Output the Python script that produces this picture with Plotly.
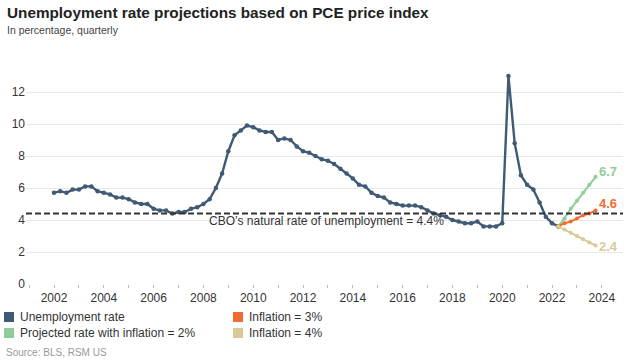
import plotly.graph_objects as go

# ---------------- data ----------------
years = list(range(2002, 2023))
unemployment = [
    5.7, 5.8, 5.7, 5.9,   # 2002
    5.9, 6.1, 6.1, 5.8,   # 2003
    5.7, 5.6, 5.4, 5.4,   # 2004
    5.3, 5.1, 5.0, 5.0,   # 2005
    4.7, 4.6, 4.6, 4.4,   # 2006
    4.5, 4.5, 4.7, 4.8,   # 2007
    5.0, 5.3, 6.0, 6.9,   # 2008
    8.3, 9.3, 9.6, 9.9,   # 2009
    9.8, 9.6, 9.5, 9.5,   # 2010
    9.0, 9.1, 9.0, 8.6,   # 2011
    8.3, 8.2, 8.0, 7.8,   # 2012
    7.7, 7.5, 7.2, 6.9,   # 2013
    6.6, 6.2, 6.1, 5.7,   # 2014
    5.5, 5.4, 5.1, 5.0,   # 2015
    4.9, 4.9, 4.9, 4.8,   # 2016
    4.6, 4.4, 4.3, 4.2,   # 2017
    4.0, 3.9, 3.8, 3.8,   # 2018
    3.9, 3.6, 3.6, 3.6,   # 2019
    3.8, 13.0, 8.8, 6.8,  # 2020
    6.2, 5.9, 5.1, 4.2,   # 2021
    3.8, 3.6,             # 2022
]
unemp_x = [y + q / 4 for y in years for q in range(4)][:len(unemployment)]

proj_quarters = ["2022Q2", "2022Q3", "2022Q4", "2023Q1", "2023Q2", "2023Q3", "2023Q4"]
proj_infl_2 = [3.6, 4.1, 4.7, 5.2, 5.7, 6.2, 6.7]
proj_infl_3 = [3.6, 3.8, 3.9, 4.1, 4.3, 4.4, 4.6]
proj_infl_4 = [3.6, 3.4, 3.2, 3.0, 2.8, 2.6, 2.4]
proj_x = [int(s[:4]) + (int(s[-1]) - 1) / 4 for s in proj_quarters]

natural_rate = 4.4
y_ticks = [0, 2, 4, 6, 8, 10, 12]
x_ticks = [2002, 2004, 2006, 2008, 2010, 2012, 2014, 2016, 2018, 2020, 2022, 2024]

# ---------------- style ----------------
FONT = "Liberation Sans, Arial, sans-serif"
C_BLUE = "#3e5a74"
C_GREEN = "#8fcd98"
C_ORANGE = "#f26a2e"
C_TAN = "#d8c997"

W, H = 630, 360
ML, MR, MT, MB = 26, 7, 60, 76
PW, PH = W - ML - MR, H - MT - MB


def px(x):
    return (x - ML) / PW


def py(y):
    return (H - MB - y) / PH


fig = go.Figure()

fig.add_trace(go.Scatter(
    x=unemp_x, y=unemployment, mode="lines+markers",
    line=dict(color=C_BLUE, width=2.4), marker=dict(color=C_BLUE, size=4.5),
    showlegend=False, hoverinfo="skip"))

for vals, col in [(proj_infl_2, C_GREEN), (proj_infl_3, C_ORANGE), (proj_infl_4, C_TAN)]:
    fig.add_trace(go.Scatter(
        x=proj_x, y=vals, mode="lines+markers",
        line=dict(color=col, width=2), marker=dict(color=col, size=4),
        showlegend=False, hoverinfo="skip"))

# natural rate dashed line
fig.add_shape(type="line", xref="paper", x0=0, x1=1, yref="y", y0=natural_rate, y1=natural_rate,
              line=dict(color="#333333", width=2, dash="6px,3px"), layer="above")

annotations = []
annotations.append(dict(
    x=px(326), y=natural_rate, xref="paper", yref="y",
    text="CBO\u2019s natural rate of unemployment = 4.4%",
    showarrow=False, font=dict(family=FONT, size=12, color="#333333"), yshift=-7))

# end labels
for vals, col, ys in [(proj_infl_2, C_GREEN, 5), (proj_infl_3, C_ORANGE, 7), (proj_infl_4, C_TAN, -1)]:
    annotations.append(dict(
        x=proj_x[-1], y=vals[-1], xref="x", yref="y", text=f"<b>{vals[-1]}</b>",
        showarrow=False, xanchor="left", xshift=1, yshift=ys,
        font=dict(family=FONT, size=13, color=col)))

# title & subtitle
annotations.append(dict(
    x=px(5), y=py(13), xref="paper", yref="paper", xanchor="left", yanchor="middle",
    text="<b>Unemployment rate projections based on PCE price index</b>", showarrow=False,
    font=dict(family=FONT, size=15.3, color="#222222")))
annotations.append(dict(
    x=px(5), y=py(30), xref="paper", yref="paper", xanchor="left", yanchor="middle",
    text="In percentage, quarterly", showarrow=False,
    font=dict(family=FONT, size=10.5, color="#444444")))

# legend (custom)
legend_items = [
    ("Unemployment rate", C_BLUE, 4, 317),
    ("Projected rate with inflation = 2%", C_GREEN, 4, 333),
    ("Inflation = 3%", C_ORANGE, 233, 317),
    ("Inflation = 4%", C_TAN, 233, 333),
]
for label, col, lx, ly in legend_items:
    fig.add_shape(type="rect", xref="paper", yref="paper",
                  x0=px(lx), x1=px(lx + 10), y0=py(ly - 5), y1=py(ly + 5),
                  fillcolor=col, line=dict(color=col, width=0))
    annotations.append(dict(
        x=px(lx + 14), y=py(ly), xref="paper", yref="paper", xanchor="left", yanchor="middle",
        text=label, showarrow=False, font=dict(family=FONT, size=12, color="#333333")))

annotations.append(dict(
    x=px(4), y=py(352), xref="paper", yref="paper", xanchor="left", yanchor="middle",
    text="Source: BLS, RSM US", showarrow=False, font=dict(family=FONT, size=10, color="#999999")))

fig.update_layout(
    width=W, height=H, margin=dict(l=ML, r=MR, t=MT, b=MB),
    paper_bgcolor="white", plot_bgcolor="white",
    font=dict(family=FONT, size=12, color="#333333"),
    showlegend=False, annotations=annotations,
    xaxis=dict(range=[2000.875, 2024.85], tickvals=x_ticks, showgrid=False, zeroline=False,
               showline=False, ticks="outside", ticklen=3, tickcolor="#bbbbbb",
               tickfont=dict(family=FONT, size=12, color="#333333"),
               minor=dict(dtick=1, tick0=2000, ticks="outside", ticklen=3, tickcolor="#bbbbbb")),
    yaxis=dict(range=[0, 14], tickvals=y_ticks, showgrid=True, gridcolor="#e8e8e8", gridwidth=1,
               zeroline=False, showline=False, ticks="",
               tickfont=dict(family=FONT, size=12, color="#333333")),
)

fig.write_html("out.html", config={"displayModeBar": False, "staticPlot": True},
               post_script="document.body.style.margin='0';")
